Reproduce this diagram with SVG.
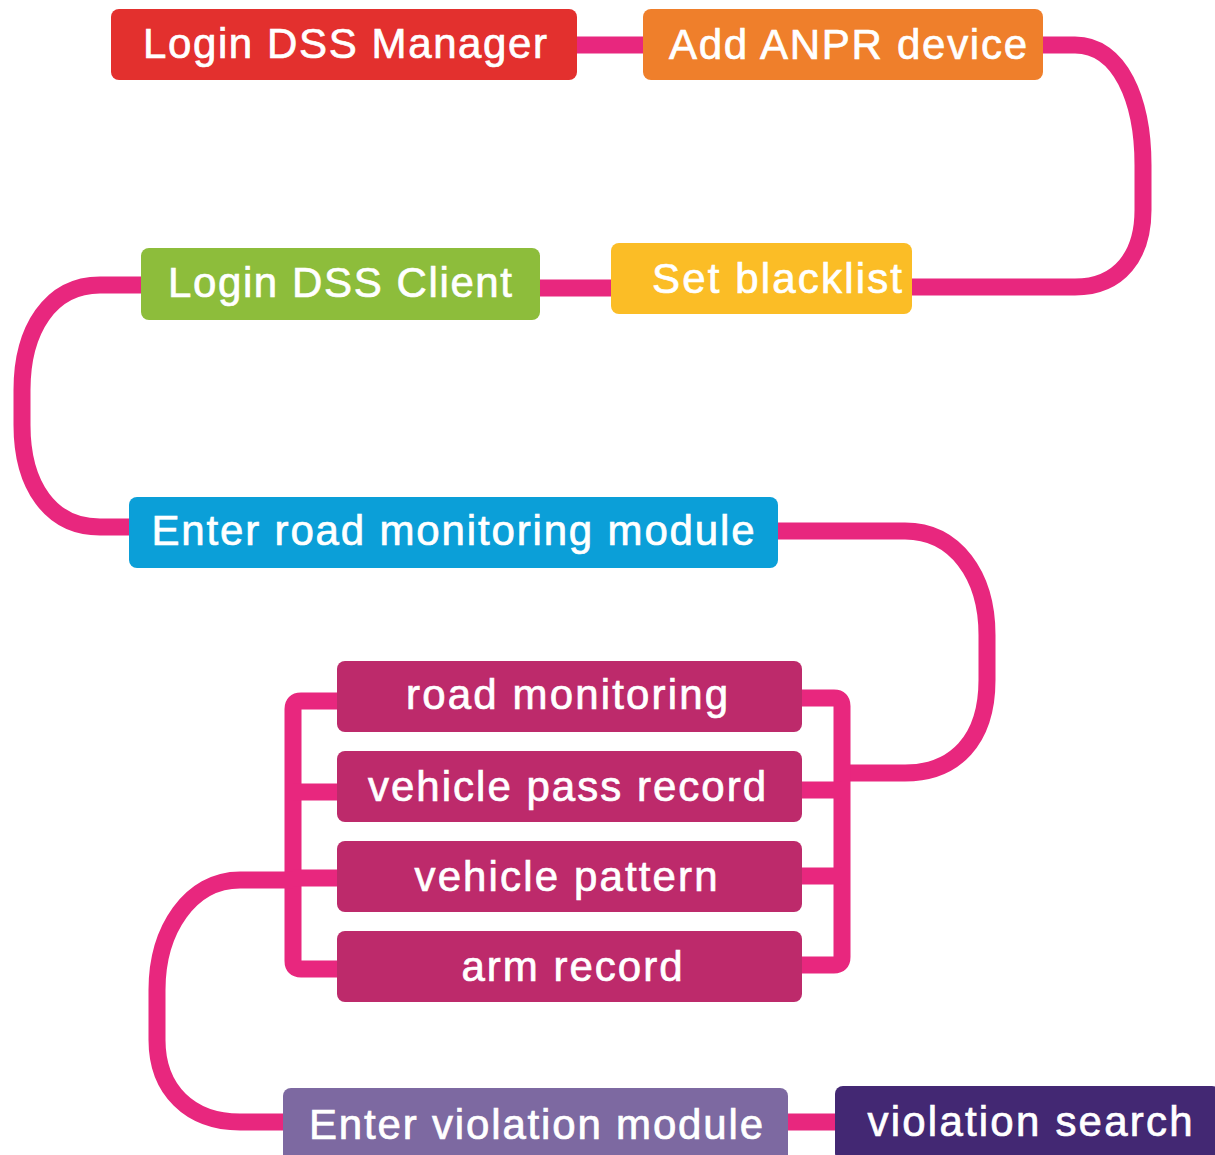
<svg xmlns="http://www.w3.org/2000/svg" width="1215" height="1155" viewBox="0 0 1215 1155">
  <style>
    .conn { fill: none; stroke: #e8277e; stroke-width: 17; }
    .box { stroke: none; }
    .lbl { font-family: "Liberation Sans", Arial, sans-serif; font-size: 42px; fill: #ffffff; stroke: #ffffff; stroke-width: 0.7; text-anchor: middle; }
  </style>
  <rect width="1215" height="1155" fill="#ffffff"/>
  <g id="connectors">
    <path class="conn" d="M577,45 H643"/>
    <path class="conn" d="M1043,45 H1075 C1120,45 1143,100 1143,165 V210 C1143,255 1120,287 1075,287 H912"/>
    <path class="conn" d="M611,288 H540"/>
    <path class="conn" d="M141,285 H100 C50,285 22,330 22,390 V425 C22,485 50,527 100,527 H129"/>
    <path class="conn" d="M778,531 H905 C955,531 987,575 987,635 V680 C987,740 955,773 905,773 H842"/>
    <path class="conn" d="M790,698 H834 Q842,698 842,706 V957 Q842,965 834,965 H790"/>
    <path class="conn" d="M790,790 H842 M790,876 H842"/>
    <path class="conn" d="M350,701 H301 Q293,701 293,709 V961 Q293,969 301,969 H350"/>
    <path class="conn" d="M350,792 H293 M350,878 H293"/>
    <path class="conn" d="M293,880 H240 C190,880 157,930 157,990 V1040 C157,1090 190,1122 240,1122 H283"/>
    <path class="conn" d="M788,1122 H835"/>
  </g>
  <g id="n1"><rect class="box" x="111" y="9" width="466" height="71" rx="8" fill="#e3302e"/><text class="lbl" x="345" y="58" textLength="404">Login DSS Manager</text></g>
  <g id="n2"><rect class="box" x="643" y="9" width="400" height="71" rx="8" fill="#ef7f2b"/><text class="lbl" x="848" y="59" textLength="358">Add ANPR device</text></g>
  <g id="n3"><rect class="box" x="611" y="243" width="301" height="71" rx="8" fill="#fbbd26"/><text class="lbl" x="777" y="293" textLength="250">Set blacklist</text></g>
  <g id="n4"><rect class="box" x="141" y="248" width="399" height="72" rx="8" fill="#8dbd3b"/><text class="lbl" x="340" y="297" textLength="344">Login DSS Client</text></g>
  <g id="n5"><rect class="box" x="129" y="497" width="649" height="71" rx="8" fill="#0b9fd8"/><text class="lbl" x="453" y="545" textLength="603">Enter road monitoring module</text></g>
  <g id="n6"><rect class="box" x="337" y="661" width="465" height="71" rx="8" fill="#bd2a6b"/><text class="lbl" x="567" y="709" textLength="322">road monitoring</text></g>
  <g id="n7"><rect class="box" x="337" y="751" width="465" height="71" rx="8" fill="#bd2a6b"/><text class="lbl" x="567" y="801" textLength="398">vehicle pass record</text></g>
  <g id="n8"><rect class="box" x="337" y="841" width="465" height="71" rx="8" fill="#bd2a6b"/><text class="lbl" x="566" y="891" textLength="303">vehicle pattern</text></g>
  <g id="n9"><rect class="box" x="337" y="931" width="465" height="71" rx="8" fill="#bd2a6b"/><text class="lbl" x="572" y="981" textLength="221">arm record</text></g>
  <g id="n10"><rect class="box" x="283" y="1088" width="505" height="75" rx="8" fill="#7d69a1"/><text class="lbl" x="536" y="1139" textLength="454">Enter violation module</text></g>
  <g id="n11"><rect class="box" x="835" y="1086" width="385" height="75" rx="8" fill="#432873"/><text class="lbl" x="1030" y="1136" textLength="325">violation search</text></g>
</svg>
